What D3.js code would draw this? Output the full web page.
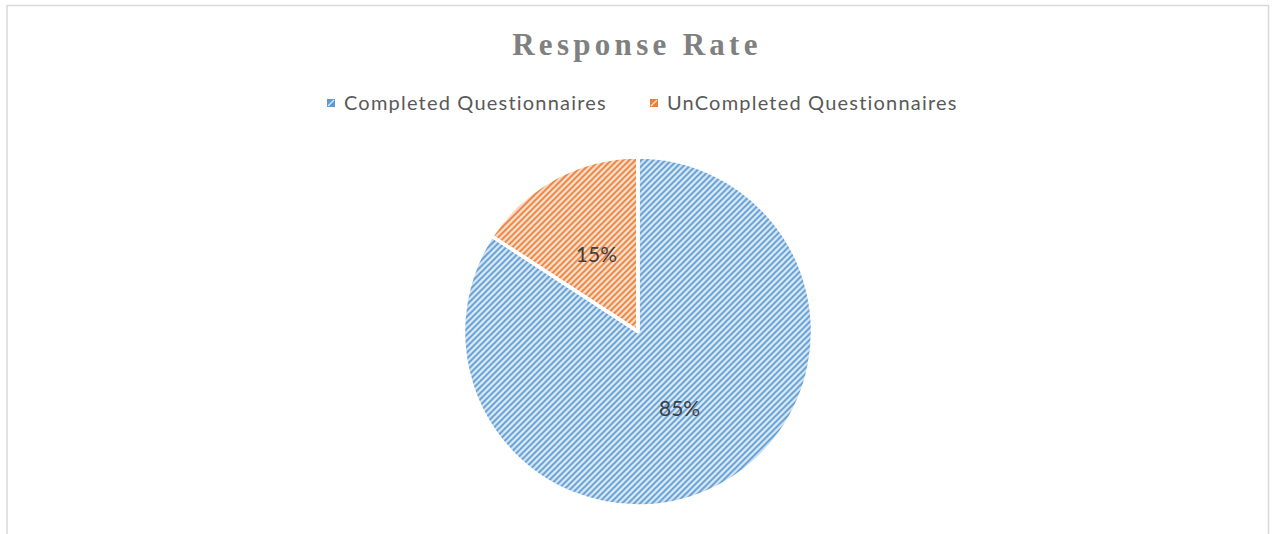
<!DOCTYPE html>
<html><head><meta charset="utf-8">
<script src="https://cdn.jsdelivr.net/npm/d3@7"></script>
<style>html,body{margin:0;padding:0;background:#fff;}svg{display:block;}</style>
</head><body>
<svg id="chart" width="1277" height="534"></svg>
<script>
const categories = ["Completed Questionnaires", "UnCompleted Questionnaires"];
const values = [84.2, 15.8];
const labels = ["85%", "15%"];
const title = "Response Rate";

const fg = ["#5b9bd5", "#ed7d31"];
const bg = ["#deebf7", "#fce4d6"];

const svg = d3.select("#chart");
const W = 1277, H = 534;
svg.append("rect").attr("x",0).attr("y",0).attr("width",W).attr("height",H).attr("fill","#fff");
svg.append("rect").attr("x",7).attr("y",5.5).attr("width",1261.5).attr("height",600)
  .attr("fill","none").attr("stroke","#d9d9d9").attr("stroke-width",1.5);

const defs = svg.append("defs");
categories.forEach((c,i)=>{
  const p = defs.append("pattern").attr("id","pat"+i).attr("patternUnits","userSpaceOnUse")
    .attr("width",6).attr("height",6);
  p.append("rect").attr("width",6).attr("height",6).attr("fill",bg[i]);
  p.append("path").attr("d","M-1,7 L7,-1 M-4,4 L4,-4 M2,10 L10,2")
    .attr("stroke",fg[i]).attr("stroke-width",1.9).attr("fill","none");
  const f = defs.append("filter").attr("id","inner"+i)
    .attr("x","-10%").attr("y","-10%").attr("width","120%").attr("height","120%");
  f.append("feGaussianBlur").attr("in","SourceAlpha").attr("stdDeviation",4).attr("result","blur");
  f.append("feComposite").attr("in","SourceAlpha").attr("in2","blur").attr("operator","arithmetic")
    .attr("k1",0).attr("k2",1).attr("k3",-1).attr("k4",0).attr("result","edge");
  f.append("feFlood").attr("flood-color",fg[i]).attr("flood-opacity",0.55).attr("result","col");
  f.append("feComposite").attr("in","col").attr("in2","edge").attr("operator","in").attr("result","glow");
  const m = f.append("feMerge");
  m.append("feMergeNode").attr("in","SourceGraphic");
  m.append("feMergeNode").attr("in","glow");
});

// title
svg.append("text").attr("x",637).attr("y",55).attr("text-anchor","middle")
  .attr("font-family","Liberation Serif, Times New Roman, serif").attr("font-weight","bold")
  .attr("font-size",31).attr("letter-spacing","4.3px").attr("fill","#808080").text(title);

// legend
const legendX = [327, 650];
const leg = svg.append("g");
categories.forEach((c,i)=>{
  leg.append("rect").attr("x",legendX[i]).attr("y",99).attr("width",8).attr("height",8)
    .attr("fill",fg[i]);
  leg.append("path").attr("d",`M${legendX[i]+1},${106} L${legendX[i]+7},${100}`)
    .attr("stroke",bg[i]).attr("stroke-width",1.2);
  leg.append("text").attr("x",legendX[i]+17).attr("y",110)
    .attr("font-family","Lato, sans-serif").attr("font-size",20).attr("letter-spacing","1.2px")
    .attr("fill","#595959").text(c);
});

// pie
const cx = 638, cy = 331.5, r = 174.5;
const pie = d3.pie().sort(null).value(d=>d);
const arcs = pie(values);
const arc = d3.arc().innerRadius(0).outerRadius(r);
const labelArc = d3.arc().innerRadius(r*0.5).outerRadius(r*0.5);
const g = svg.append("g").attr("transform",`translate(${cx},${cy})`);
g.selectAll("path.slice").data(arcs).enter().append("path").attr("class","slice")
  .attr("d",arc).attr("fill",(d,i)=>"url(#pat"+i+")").attr("filter",(d,i)=>"url(#inner"+i+")");
g.selectAll("path.sep").data(arcs).enter().append("path").attr("class","sep")
  .attr("d",arc).attr("fill","none").attr("stroke","#fff").attr("stroke-width",3.5).attr("stroke-linejoin","round");
g.selectAll("text.lbl").data(arcs).enter().append("text").attr("class","lbl")
  .attr("transform",d=>{const [x,y]=labelArc.centroid(d);return `translate(${x},${y})`;})
  .attr("text-anchor","middle").attr("dy","0.35em")
  .attr("font-family","Lato, sans-serif").attr("font-size",21).attr("fill","#404040")
  .text((d,i)=>labels[i]);
</script>
</body></html>
